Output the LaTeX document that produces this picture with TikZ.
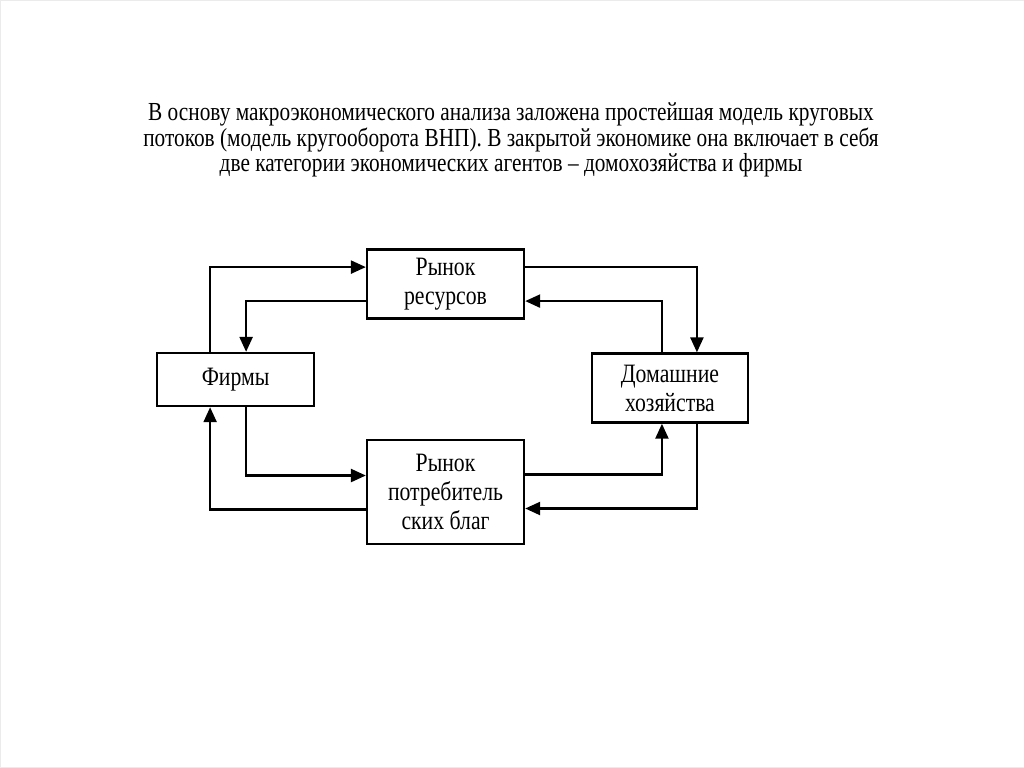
\documentclass[tikz,border=0pt]{standalone}
\usepackage{fontspec}
\setmainfont{Liberation Serif}[FakeStretch=0.82]
\usetikzlibrary{arrows.meta}

\begin{document}
\begin{tikzpicture}[x=1pt,y=-1pt,
    box/.style={draw,line width=2.4pt,align=center,inner sep=0pt,
      font=\fontsize{26.5}{29}\selectfont},
    flow/.style={line width=2.4pt,-{Triangle[length=15pt,width=13pt]}}]
  \useasboundingbox[fill=white,draw=black!8] (0,0) rectangle (1024,767);
  % heading
  \node[align=center,font=\fontsize{26}{25.5}\selectfont] (head) at (511,140)
    {В основу макроэкономического анализа заложена простейшая модель круговых\\
     потоков (модель кругооборота ВНП). В закрытой экономике она включает в себя\\
     две категории экономических агентов -- домохозяйства и фирмы};
  % the four boxes
  \node[box,minimum width=157pt,minimum height=69pt] (res) at (445.5,284)
    {Рынок\\ресурсов};
  \node[box,minimum width=157pt,minimum height=53pt] (firms) at (235.5,379.5)
    {Фирмы};
  \node[box,minimum width=156pt,minimum height=69pt] (hh) at (670,388)
    {Домашние\\хозяйства};
  \node[box,minimum width=157pt,minimum height=104pt] (goods) at (445.5,492)
    {Рынок\\потребитель\\ских благ};
  % upper loop
  \draw[flow] ([xshift=-25.5pt]firms.north) |- ([yshift=17pt]res.west);
  \draw[flow] ([yshift=-17pt]res.west) -| ([xshift=10.5pt]firms.north);
  \draw[flow] ([yshift=17pt]res.east) -| ([xshift=27pt]hh.north);
  \draw[flow] ([xshift=-8pt]hh.north) |- ([yshift=-17pt]res.east);
  % lower loop
  \draw[flow] ([xshift=10.5pt]firms.south) |- ([yshift=16.5pt]goods.west);
  \draw[flow] ([yshift=-17.5pt]goods.west) -| ([xshift=-25.5pt]firms.south);
  \draw[flow] ([yshift=17.5pt]goods.east) -| ([xshift=-8pt]hh.south);
  \draw[flow] ([xshift=27pt]hh.south) |- ([yshift=-16.5pt]goods.east);
\end{tikzpicture}
\end{document}
